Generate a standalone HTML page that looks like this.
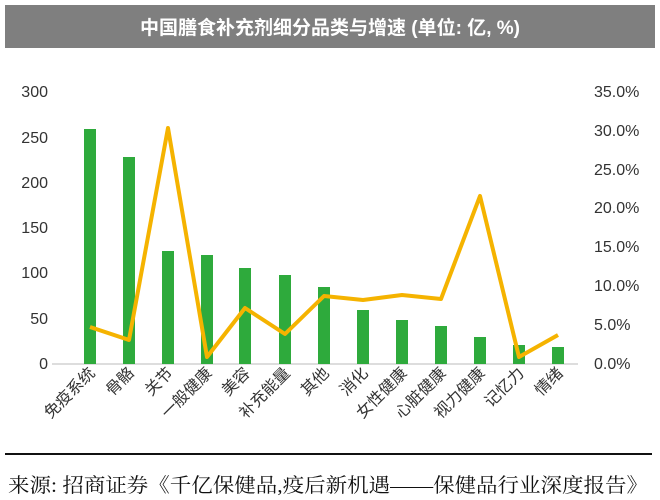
<!DOCTYPE html>
<html><head><meta charset="utf-8"><style>
html,body{margin:0;padding:0;background:#fff;}
svg{display:block;}
</style></head><body>
<svg width="660" height="500" xmlns="http://www.w3.org/2000/svg" font-family="Liberation Sans, Noto Sans CJK SC, sans-serif">
<rect x="5" y="5" width="650" height="43" fill="#7f7f7f"/>
<text x="330" y="34" fill="#fff" font-size="19" text-anchor="middle" font-weight="bold">中国膳食补充剂细分品类与增速 (单位: 亿, %)</text>
<g font-size="16" fill="#333" text-anchor="end">
<text x="48" y="97">300</text><text x="48" y="143">250</text><text x="48" y="188">200</text><text x="48" y="233">150</text><text x="48" y="278">100</text><text x="48" y="324">50</text><text x="48" y="369">0</text>
</g>
<g font-size="16" fill="#333" text-anchor="start">
<text x="594" y="97">35.0%</text><text x="594" y="136">30.0%</text><text x="594" y="175">25.0%</text><text x="594" y="213">20.0%</text><text x="594" y="252">15.0%</text><text x="594" y="291">10.0%</text><text x="594" y="330">5.0%</text><text x="594" y="369">0.0%</text>
</g>
<line x1="52" y1="364" x2="578" y2="364" stroke="#bbb" stroke-width="1"/>
<g fill="#2eaa3c">
<rect x="84" y="129" width="12" height="235"/>
<rect x="123" y="157" width="12" height="207"/>
<rect x="162" y="251" width="12" height="113"/>
<rect x="201" y="255" width="12" height="109"/>
<rect x="239" y="268" width="12" height="96"/>
<rect x="279" y="275" width="12" height="89"/>
<rect x="318" y="287" width="12" height="77"/>
<rect x="357" y="310" width="12" height="54"/>
<rect x="396" y="320" width="12" height="44"/>
<rect x="435" y="326" width="12" height="38"/>
<rect x="474" y="337" width="12" height="27"/>
<rect x="513" y="345" width="12" height="19"/>
<rect x="552" y="347" width="12" height="17"/>
</g>
<polyline fill="none" stroke="#f5b300" stroke-width="4" stroke-linejoin="round" points="90,327 129,340 168,128 207,357 245,308 285,334 324,296 363,300 402,295 441,299 480,196 519,357 558,335"/>
<g font-size="16" fill="#333" text-anchor="end">
<text transform="translate(96,374) rotate(-45)">免疫系统</text>
<text transform="translate(135,374) rotate(-45)">骨骼</text>
<text transform="translate(174,374) rotate(-45)">关节</text>
<text transform="translate(213,374) rotate(-45)">一般健康</text>
<text transform="translate(251,374) rotate(-45)">美容</text>
<text transform="translate(291,374) rotate(-45)">补充能量</text>
<text transform="translate(330,374) rotate(-45)">其他</text>
<text transform="translate(369,374) rotate(-45)">消化</text>
<text transform="translate(408,374) rotate(-45)">女性健康</text>
<text transform="translate(447,374) rotate(-45)">心脏健康</text>
<text transform="translate(486,374) rotate(-45)">视力健康</text>
<text transform="translate(525,374) rotate(-45)">记忆力</text>
<text transform="translate(564,374) rotate(-45)">情绪</text>
</g>
<rect x="5" y="453" width="647" height="2" fill="#111"/>
<text x="8" y="492" font-size="20" fill="#111" textLength="640" lengthAdjust="spacingAndGlyphs" font-family="Liberation Serif, Noto Serif CJK SC, serif">来源: 招商证券《千亿保健品,疫后新机遇——保健品行业深度报告》</text>
</svg>
</body></html>
